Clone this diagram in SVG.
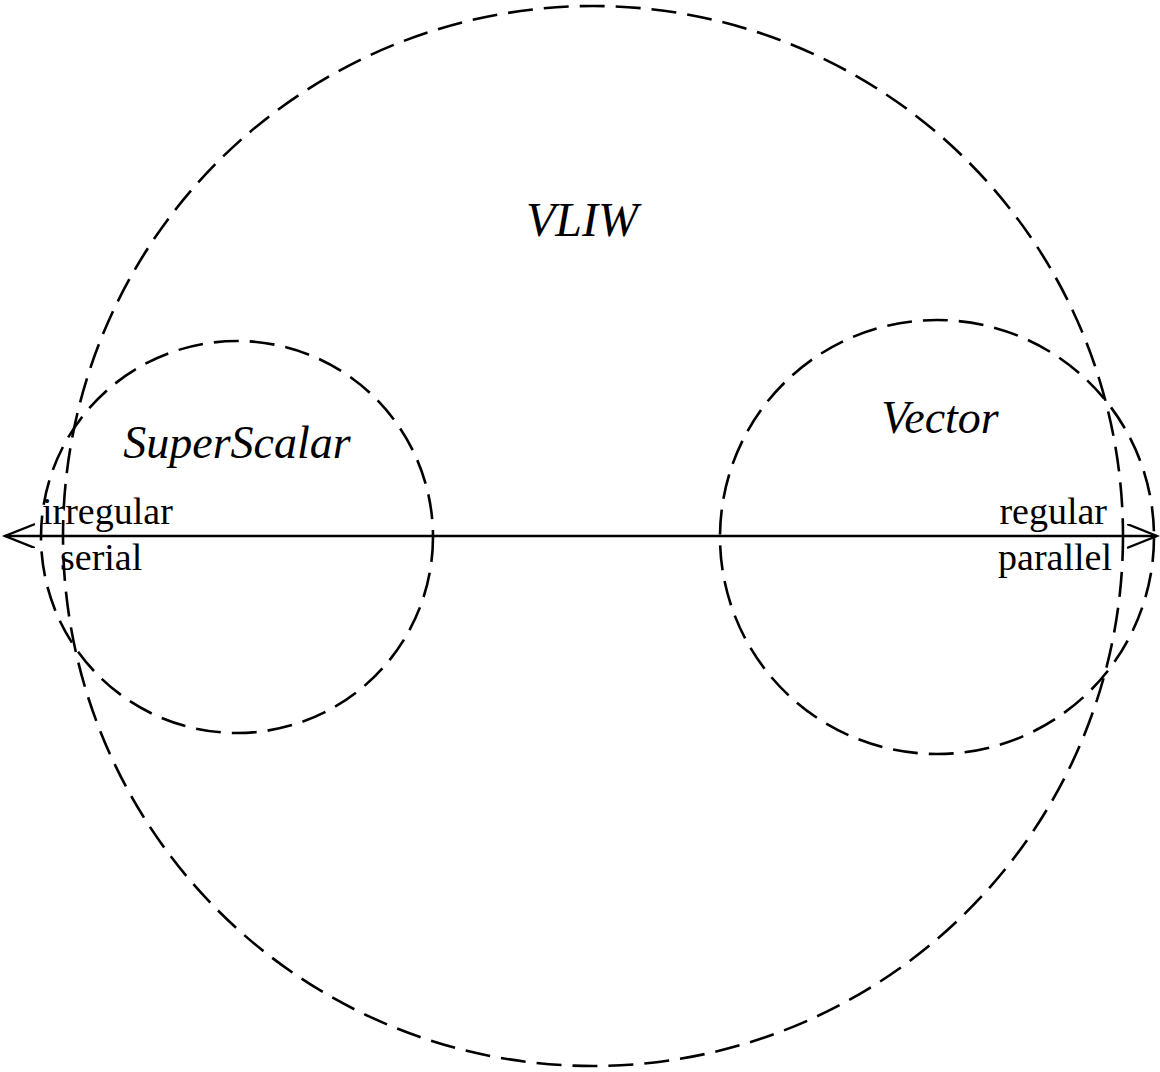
<svg xmlns="http://www.w3.org/2000/svg" width="1160" height="1072" viewBox="0 0 1160 1072">
<style>
.c{fill:none;stroke:#000;stroke-width:2.6;stroke-dasharray:25 11}
.t{font-family:"Liberation Serif","Times New Roman",serif;fill:#000}
.i{font-style:italic}
</style>
<defs>
<marker id="ah" markerUnits="userSpaceOnUse" markerWidth="40" markerHeight="30" refX="30" refY="12" orient="auto-start-reverse">
<path d="M0,0 L30,12 L0,24" fill="none" stroke="#000" stroke-width="2.4"/>
</marker>
</defs>
<g id="vliw"><circle class="c" cx="593" cy="536" r="530"/><text class="t i" x="582" y="236" font-size="48" text-anchor="middle">VLIW</text></g>
<g id="superscalar"><circle class="c" cx="237" cy="537" r="196"/><text class="t i" x="237" y="458" font-size="46" text-anchor="middle">SuperScalar</text></g>
<g id="vector"><circle class="c" cx="937" cy="537" r="217"/><text class="t i" x="940" y="433" font-size="46" text-anchor="middle">Vector</text></g>
<g id="connectors"><line x1="5" y1="536" x2="1157" y2="536" stroke="#000" stroke-width="2.4" marker-start="url(#ah)" marker-end="url(#ah)"/></g>
<g id="labels">
<text class="t" x="42" y="524" font-size="38">irregular</text>
<text class="t" x="60" y="570" font-size="38">serial</text>
<text class="t" x="1107" y="524" font-size="38" text-anchor="end">regular</text>
<text class="t" x="1112" y="570" font-size="38" text-anchor="end">parallel</text>
</g>
</svg>
